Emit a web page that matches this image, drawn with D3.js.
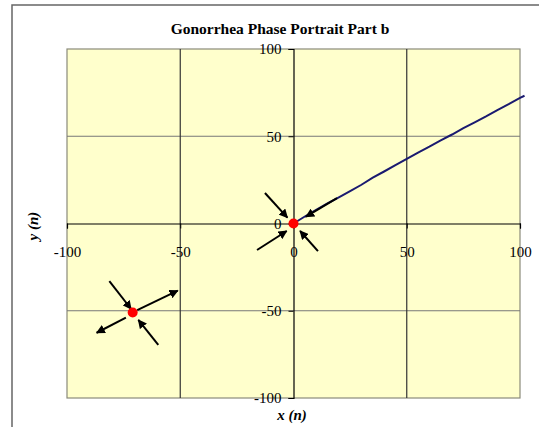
<!DOCTYPE html>
<html>
<head>
<meta charset="utf-8">
<script src="https://cdn.jsdelivr.net/npm/d3@7"></script>
<style>
  body { margin: 0; background: #fff; }
  svg { display: block; }
</style>
</head>
<body>
<svg class="chart"></svg>
<script>
// data
const ticks = [-100, -50, 0, 50, 100]
const pathX = [0, 5, 10, 15, 20, 25, 30, 35, 40, 45, 50, 55, 60, 65, 70, 75, 80, 85, 90, 95, 100, 102]
const pathY = [0, 4, 7.8, 11.5, 15, 18.6, 22.2, 26.3, 29.8, 33.4, 37, 40.6, 44, 47.6, 51, 54.6, 58, 61.4, 65, 68.4, 72, 73.2]
const fixedPoints = [[0, 0], [-71, -51]]
// arrows as [x1, y1, x2, y2], head at the second point
const arrows = [
  [-12.6, 17.5, -2.7, 3.4],
  [19.2, 14.6, 5.5, 3.9],
  [-16.1, -15.2, -3.0, -4.3],
  [10.8, -15.8, 2.9, -4.3],
  [-81.3, -33.0, -71.7, -49.0],
  [-69.0, -49.6, -51.1, -38.5],
  [-74.0, -54.0, -86.9, -62.6],
  [-59.7, -69.6, -68.5, -55.3]
]

const W = 539, H = 427
const plot = {left: 67, top: 49, right: 520, bottom: 398}
const serif = "'Liberation Serif', 'Times New Roman', serif"

let svg = d3.select(".chart").attr("width", W).attr("height", H)
  .attr("font-family", serif)

//outer chart frame, runs off the right and bottom
svg.append("rect")
  .attr("x", 12).attr("y", 5).attr("width", 600).attr("height", 600)
  .attr("fill", "#fff").attr("stroke", "#666").attr("stroke-width", 1.5)

let x = d3.scaleLinear().domain([-100, 100]).range([plot.left, plot.right])
let y = d3.scaleLinear().domain([-100, 100]).range([plot.bottom, plot.top])

svg.append("rect")
  .attr("x", plot.left).attr("y", plot.top)
  .attr("width", plot.right - plot.left).attr("height", plot.bottom - plot.top)
  .attr("fill", "#ffffcc").attr("stroke", "#8a8a7a").attr("stroke-width", 1.2)

//gridlines
svg.append("g").selectAll("line")
  .data([-50, 50]).enter().append("line")
  .attr("x1", plot.left).attr("x2", plot.right)
  .attr("y1", d => y(d)).attr("y2", d => y(d))
  .attr("stroke", "#777").attr("stroke-width", 1.2)
svg.append("g").selectAll("line")
  .data([-50, 50]).enter().append("line")
  .attr("y1", plot.top).attr("y2", plot.bottom)
  .attr("x1", d => x(d)).attr("x2", d => x(d))
  .attr("stroke", "#333").attr("stroke-width", 1.2)

//axes crossing at zero, plain hyphen for negatives like excel
let fmt = d => String(d)
let yAxis = svg.append("g")
  .attr("transform", "translate(" + x(0) + ",0)")
  .call(d3.axisLeft(y).tickValues(ticks).tickFormat(fmt).tickSize(5).tickPadding(7))
let xAxis = svg.append("g")
  .attr("transform", "translate(0," + y(0) + ")")
  .call(d3.axisBottom(x).tickValues(ticks).tickFormat(fmt).tickSize(5).tickPadding(18))
;[yAxis, xAxis].forEach(function(a){
  a.attr("font-family", serif)
  a.select(".domain").attr("stroke", "#000").attr("stroke-width", 1.2)
  a.selectAll(".tick line").attr("stroke", "#000")
  a.selectAll("text").style("font-size", "15px").attr("fill", "#000")
})

//trajectory
let line = d3.line().x(d => x(d[0])).y(d => y(d[1]))
svg.append("path")
  .attr("d", line(pathX.map((v, i) => [v, pathY[i]])))
  .attr("fill", "none").attr("stroke", "#1a1a70").attr("stroke-width", 2)

//arrows
svg.append("defs").append("marker")
  .attr("id", "head").attr("viewBox", "0 0 10 10")
  .attr("refX", 9).attr("refY", 5)
  .attr("markerWidth", 4.5).attr("markerHeight", 4.5)
  .attr("markerUnits", "strokeWidth")
  .attr("orient", "auto")
  .append("path").attr("d", "M0,0 L10,5 L0,10 Z").attr("fill", "#000")

svg.append("g").selectAll("line")
  .data(arrows).enter().append("line")
  .attr("x1", d => x(d[0])).attr("y1", d => y(d[1]))
  .attr("x2", d => x(d[2])).attr("y2", d => y(d[3]))
  .attr("stroke", "#000").attr("stroke-width", 2)
  .attr("marker-end", "url(#head)")

//fixed points
svg.append("g").selectAll("circle")
  .data(fixedPoints).enter().append("circle")
  .attr("cx", d => x(d[0])).attr("cy", d => y(d[1]))
  .attr("r", 5).attr("fill", "#f00")

//titles
svg.append("text")
  .attr("x", 280).attr("y", 34)
  .attr("text-anchor", "middle")
  .style("font-size", "15.5px").style("font-weight", "bold")
  .text("Gonorrhea Phase Portrait Part b")

svg.append("text")
  .attr("x", 292).attr("y", 420)
  .attr("text-anchor", "middle")
  .style("font-size", "15px").style("font-weight", "bold").style("font-style", "italic")
  .text("x (n)")

svg.append("text")
  .attr("transform", "translate(38,226) rotate(-90)")
  .attr("text-anchor", "middle")
  .style("font-size", "15px").style("font-weight", "bold").style("font-style", "italic")
  .text("y (n)")
</script>
</body>
</html>
